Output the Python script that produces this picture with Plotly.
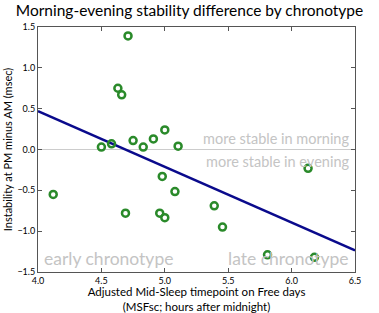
import plotly.graph_objects as go

msfsc = [4.12, 4.50, 4.58, 4.63, 4.66, 4.69, 4.71, 4.75, 4.83, 4.91, 4.96,
         4.98, 5.00, 5.00, 5.08, 5.105, 5.39, 5.455, 5.81, 6.13, 6.18]
instability = [-0.55, 0.03, 0.07, 0.75, 0.67, -0.78, 1.39, 0.11, 0.03, 0.13, -0.78,
               -0.33, 0.24, -0.835, -0.515, 0.04, -0.69, -0.95, -1.29, -0.23, -1.32]
fit_x = [4.0, 6.5]
fit_y = [0.47, -1.235]
x_ticks = [4.0, 4.5, 5.0, 5.5, 6.0, 6.5]
y_ticks = [-1.5, -1.0, -0.5, 0.0, 0.5, 1.0, 1.5]

FONT = "Lato"
fig = go.Figure()
fig.add_trace(go.Scatter(x=fit_x, y=fit_y, mode="lines",
                         line=dict(color="#0a0a8c", width=2.5), hoverinfo="skip"))
fig.add_trace(go.Scatter(x=msfsc, y=instability, mode="markers",
                         marker=dict(symbol="circle-open", size=7, color="#2a8a2a",
                                     line=dict(color="#2a8a2a", width=2.5))))

fig.add_shape(type="line", x0=4.0, x1=6.5, y0=0, y1=0, xref="x", yref="y",
              line=dict(color="#cccccc", width=1), layer="below")

ann_gray = "#c4c4c4"
fig.add_annotation(x=6.47, y=0.0, text="more stable in morning", showarrow=False,
                   xanchor="right", yanchor="bottom", yshift=1,
                   font=dict(family=FONT, size=14.5, color=ann_gray))
fig.add_annotation(x=6.47, y=0.0, text="more stable in evening", showarrow=False,
                   xanchor="right", yanchor="top", yshift=-1,
                   font=dict(family=FONT, size=14.5, color=ann_gray))
fig.add_annotation(x=4.03, y=-1.5, text="early chronotype", showarrow=False,
                   xanchor="left", yanchor="bottom", yshift=1,
                   font=dict(family=FONT, size=17.5, color=ann_gray))
fig.add_annotation(x=6.47, y=-1.5, text="late chronotype", showarrow=False,
                   xanchor="right", yanchor="bottom", yshift=1,
                   font=dict(family=FONT, size=17.5, color=ann_gray))

fig.update_layout(
    width=379, height=313,
    margin=dict(l=38, r=24, t=27, b=41, autoexpand=False),
    paper_bgcolor="white", plot_bgcolor="white",
    showlegend=False,
    font=dict(family=FONT, color="black"),
    title=dict(text="Morning-evening stability difference by chronotype",
               x=0.5, xanchor="center", y=0.985, yanchor="top",
               font=dict(family=FONT, size=15.5, color="black")),
)
fig.update_xaxes(range=[4.0, 6.5], tickvals=x_ticks, tickformat=".1f",
                 showgrid=False, zeroline=False, showline=True, mirror="ticks",
                 linecolor="#555555", linewidth=1, ticks="inside", ticklen=4,
                 tickcolor="#555555", tickfont=dict(size=9), automargin=False,
                 title=dict(text="Adjusted Mid-Sleep timepoint on Free days<br>(MSFsc; hours after midnight)",
                            font=dict(size=11.5), standoff=2))
fig.update_yaxes(range=[-1.5, 1.5], tickvals=y_ticks, tickformat=".1f",
                 showgrid=False, zeroline=False, showline=True, mirror="ticks",
                 linecolor="#555555", linewidth=1, ticks="inside", ticklen=4,
                 tickcolor="#555555", tickfont=dict(size=9), automargin=False,
                 title=dict(text="Instability at PM minus AM (msec)",
                            font=dict(size=11), standoff=2))

fig.write_html("out.html", config={"displayModeBar": False},
               post_script="document.body.style.margin='0';document.body.style.overflow='hidden';")
